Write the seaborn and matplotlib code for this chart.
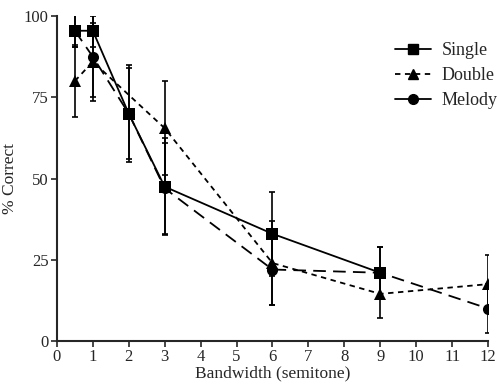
import numpy as np
import pandas as pd
import matplotlib
matplotlib.use("Agg")
import matplotlib.pyplot as plt
import seaborn as sns
from matplotlib.lines import Line2D

# Data
single_x = [0.5, 1, 2, 3, 6, 9]
single_y = [95.5, 95.5, 70, 47.5, 33, 21]
single_err = [5, 5, 15, 15, 13, 8]

double_x = [0.5, 1, 3, 6, 9, 12]
double_y = [80, 86, 65.5, 24, 14.5, 17.5]
double_err = [11, 12, 14.5, 13, 7.5, 9]

melody_x = [0.5, 1, 2, 3, 6, 9, 12]
melody_y = [95.5, 87.5, 70, 47, 22, 21, 10]
melody_err = [5, 12.5, 14, 14, 11, 8, 7.5]

x_ticks = list(range(0, 13))
y_ticks = [0, 25, 50, 75, 100]
labels = ["Single", "Double", "Melody"]

sns.set_style("ticks")
plt.rcParams['font.family'] = ['Liberation Serif', 'DejaVu Serif']

df = pd.concat([
    pd.DataFrame({"bw": single_x, "pct": single_y, "cond": "Single"}),
    pd.DataFrame({"bw": double_x, "pct": double_y, "cond": "Double"}),
    pd.DataFrame({"bw": melody_x, "pct": melody_y, "cond": "Melody"}),
])

fig = plt.figure(figsize=(4.99, 3.84), dpi=100)
ax = fig.add_axes([0.114, 0.112, 0.864, 0.846])

dashes = {"Single": "", "Double": (3, 2.5), "Melody": (7, 4)}
markers = {"Single": "s", "Double": "^", "Melody": "o"}
palette = {"Single": "black", "Double": "black", "Melody": "black"}

sns.lineplot(data=df, x="bw", y="pct", hue="cond", style="cond",
             hue_order=["Melody", "Double", "Single"],
             style_order=["Melody", "Double", "Single"],
             dashes=dashes, markers=markers, palette=palette,
             markersize=8, linewidth=1.3, markeredgewidth=0,
             legend=False, ax=ax, estimator=None, sort=False)

for xs, ys, es in [(single_x, single_y, single_err),
                   (double_x, double_y, double_err),
                   (melody_x, melody_y, melody_err)]:
    ax.errorbar(xs, ys, yerr=es, fmt="none", ecolor="black",
                elinewidth=1.2, capsize=2.5, capthick=1.2)

ax.set_xlim(0, 12)
ax.set_ylim(0, 100)
ax.set_xticks(x_ticks)
ax.set_yticks(y_ticks)
ax.tick_params(labelsize=12, length=4, width=1.2, direction="out", pad=2)
ax.set_xlabel("Bandwidth (semitone)", fontsize=12.5, labelpad=0)
ax.set_ylabel("% Correct", fontsize=12.5, labelpad=4)
for s in ["top", "right"]:
    ax.spines[s].set_visible(False)
for s in ["left", "bottom"]:
    ax.spines[s].set_linewidth(1.5)

handles = [
    Line2D([], [], color="black", marker="s", linestyle="-", markersize=7, lw=1.3),
    Line2D([], [], color="black", marker="^", linestyle=(0, (3, 2.5)), markersize=7, lw=1.3),
    Line2D([], [], color="black", marker="o", linestyle="-", markersize=7, lw=1.3),
]
ax.legend(handles, labels, loc="upper right", bbox_to_anchor=(1.06, 0.97),
          frameon=False, fontsize=13, handlelength=2.0, labelspacing=0.45,
          handletextpad=0.6)

fig.savefig("out.png", dpi=100)
